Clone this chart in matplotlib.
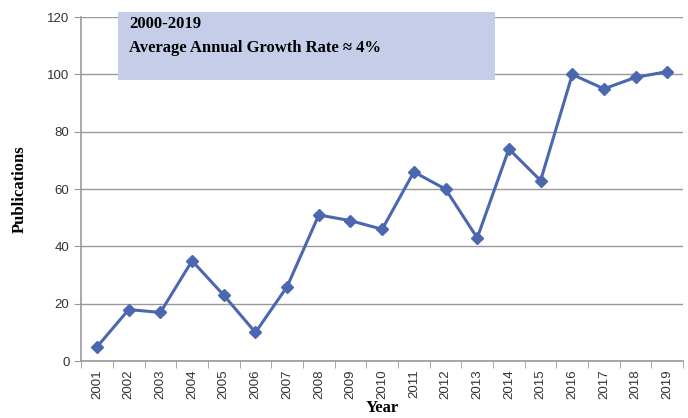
import matplotlib.pyplot as plt
from matplotlib.patches import Rectangle

years = ['2001','2002','2003','2004','2005','2006','2007','2008','2009','2010',
         '2011','2012','2013','2014','2015','2016','2017','2018','2019']
pubs = [5, 18, 17, 35, 23, 10, 26, 51, 49, 46, 66, 60, 43, 74, 63, 100, 95, 99, 101]
yticks = [0, 20, 40, 60, 80, 100, 120]

fig = plt.figure(figsize=(6.88, 4.18), dpi=100)
ax = fig.add_axes([0.118, 0.136, 0.875, 0.823])

xs = list(range(1, len(years) + 1))
ax.plot(xs, pubs, color='#4a67b0', lw=2.2, marker='D', ms=6, zorder=3)

ax.set_xlim(0.5, len(years) + 0.5)
ax.set_ylim(0, 120)
ax.set_yticks(yticks)
ax.set_xticks(xs)
ax.set_xticklabels(years, rotation=90, fontsize=9.5, color='#333333', family='Liberation Sans')
ax.set_xticks([x + 0.5 for x in range(0, len(years) + 1)], minor=True)
ax.tick_params(axis='x', which='major', length=0, pad=6)
ax.tick_params(axis='x', which='minor', length=5, color='#999999')
ax.tick_params(axis='y', length=5, color='#999999', labelsize=9.5, labelcolor='#333333')
for t in ax.get_yticklabels():
    t.set_family('Liberation Sans')

ax.grid(axis='y', color='#999999', lw=1)
ax.set_axisbelow(True)
for s in ['top', 'right']:
    ax.spines[s].set_visible(False)
for s in ['left', 'bottom']:
    ax.spines[s].set_color('#999999')
    ax.spines[s].set_linewidth(1.2)

ax.set_xlabel('Year', family='Liberation Serif', fontweight='bold', fontsize=12, labelpad=1)
ax.set_ylabel('Publications', family='Liberation Serif', fontweight='bold', fontsize=12, labelpad=14)

# annotation box
fig.patches.append(Rectangle((118 / 688, 1 - 80 / 418), (495 - 118) / 688, (80 - 12) / 418,
                             transform=fig.transFigure, facecolor='#c5cde9', edgecolor='none', zorder=5))
fig.text(129 / 688, 1 - 16 / 418, '2000-2019\nAverage Annual Growth Rate \u2248 4%',
         family='Liberation Serif', fontweight='bold', fontsize=12, va='top', ha='left',
         linespacing=1.65, zorder=6)

fig.savefig('out.png', dpi=100)
